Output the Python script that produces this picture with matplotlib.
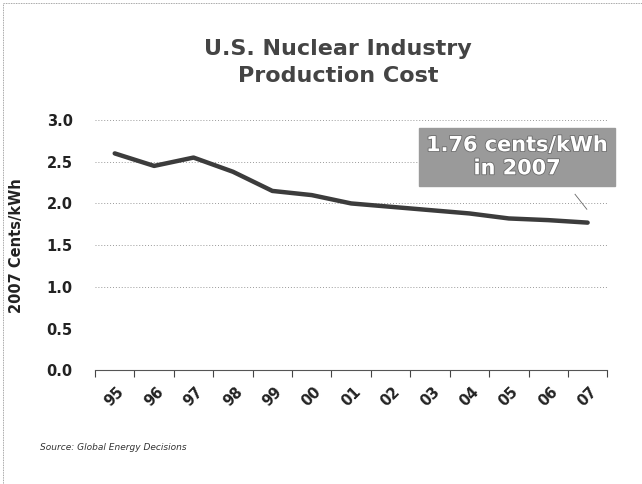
import numpy as np
import matplotlib
matplotlib.use("Agg")
import matplotlib.pyplot as plt
import matplotlib.patheffects as pe
from matplotlib.patches import Rectangle

# data
years = ["95", "96", "97", "98", "99", "00", "01", "02", "03", "04", "05", "06", "07"]
cost = [2.60, 2.45, 2.55, 2.38, 2.15, 2.10, 2.00, 1.96, 1.92, 1.88, 1.82, 1.80, 1.77]
yticks = [0.0, 0.5, 1.0, 1.5, 2.0, 2.5, 3.0]
gridvals = [1.0, 1.5, 2.0, 2.5, 3.0]

plt.rcParams['font.family'] = ['DejaVu Sans']

fig = plt.figure(figsize=(6.42, 4.84), dpi=100)
ax = fig.add_axes([0.148, 0.235, 0.798, 0.517])

x = np.arange(len(years))
ax.plot(x, cost, color="#3c3c3c", lw=3.2, solid_capstyle="round", zorder=3)

for g in gridvals:
    ax.axhline(g, color="#9a9a9a", lw=0.7, ls=(0, (1, 2)), zorder=1)

ax.set_xlim(-0.5, len(years) - 0.5)
ax.set_ylim(0, 3.0)
ax.set_yticks(yticks)
ax.set_yticklabels(["%.1f" % v for v in yticks], fontsize=10.5, fontweight="bold", color="#222222")
ax.tick_params(axis="y", length=0, pad=16)

# category ticks between the points
ax.set_xticks(x)
ax.set_xticklabels(years, rotation=45, fontsize=10.5, fontweight="bold", color="#222222")
ax.set_xticks(np.arange(-0.5, len(years)), minor=True)
ax.tick_params(axis="x", which="major", length=0, pad=10)
ax.tick_params(axis="x", which="minor", length=5, width=0.8, color="#444444", direction="out")

for s in ["top", "right", "left"]:
    ax.spines[s].set_visible(False)
ax.spines["bottom"].set_color("#555555")
ax.spines["bottom"].set_linewidth(0.8)

ax.set_ylabel("2007 Cents/kWh", fontsize=10.5, fontweight="bold", color="#222222", labelpad=16)

fig.text(0.527, 0.871, "U.S. Nuclear Industry\nProduction Cost", ha="center", va="center",
         fontsize=16, fontweight="bold", color="#444444", linespacing=1.45)

# callout box
ax.text(10.21, 2.56, "1.76 cents/kWh\nin 2007", ha="center", va="center", fontsize=15,
        fontweight="bold", color="white", linespacing=1.2, zorder=5,
        path_effects=[pe.withStroke(linewidth=1.2, foreground="#6a6a6a")],
        bbox=dict(boxstyle="square,pad=0.35", facecolor="#9a9a9a", edgecolor="#9a9a9a"))
ax.plot([11.68, 11.98], [2.11, 1.93], color="#666666", lw=0.6, zorder=4)

fig.text(0.062, 0.07, "Source: Global Energy Decisions", fontsize=6.5, style="italic", color="#333333")

# scanned page frame
fig.patches.append(Rectangle((0.004, 0.0), 1.2, 0.993, transform=fig.transFigure, fill=False,
                             edgecolor="#888888", lw=0.6, ls=(0, (1, 1))))

fig.savefig("out.png", dpi=100)
